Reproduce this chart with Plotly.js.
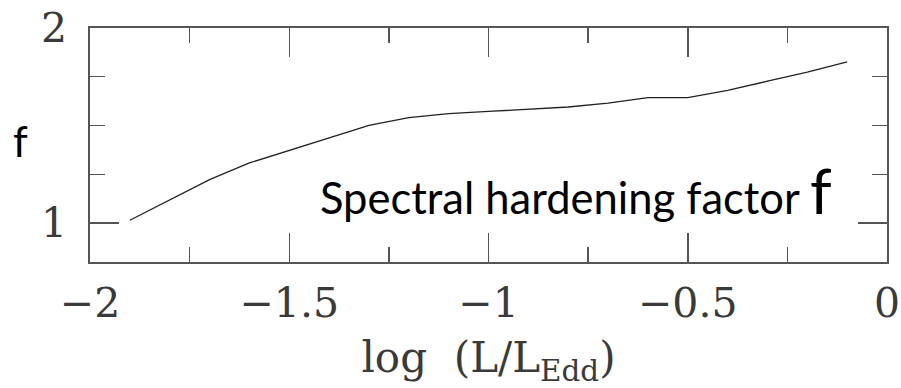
<!DOCTYPE html>
<html>
<head>
<meta charset="utf-8">
<script src="https://cdn.plot.ly/plotly-3.0.1.min.js"></script>
<style>html,body{margin:0;padding:0;background:#fff;}#chart{width:901px;height:388px;}</style>
</head>
<body>
<div id="chart"></div>
<script>
// log(L/L_Edd)
const logL = [-1.9, -1.8, -1.7, -1.6, -1.5, -1.4, -1.3, -1.2, -1.1, -1.0, -0.9, -0.8, -0.7, -0.6, -0.5, -0.4, -0.3, -0.2, -0.1];
// spectral hardening factor f
const fValues = [1.014, 1.118, 1.222, 1.308, 1.372, 1.436, 1.501, 1.540, 1.561, 1.572, 1.584, 1.595, 1.615, 1.643, 1.643, 1.680, 1.727, 1.774, 1.826];
const xTickVals = [-2, -1.5, -1, -0.5, 0];
const xTickText = ['\u22122', '\u22121.5', '\u22121', '\u22120.5', '0'];
const yTickVals = [1, 2];
const yTickText = ['1', '2'];

const serif = 'DejaVu Serif, serif';
const axisColor = '#555';

const trace = {
  x: logL, y: fValues, type: 'scatter', mode: 'lines',
  line: {color: '#222', width: 1.3}, hoverinfo: 'skip'
};

const layout = {
  width: 901, height: 388,
  margin: {l: 90, r: 14, t: 28, b: 126},
  paper_bgcolor: '#fff', plot_bgcolor: '#fff',
  showlegend: false,
  xaxis: {
    range: [-2, 0], showgrid: false, zeroline: false,
    showline: true, linecolor: axisColor, linewidth: 1.6, mirror: 'ticks',
    ticks: 'inside', ticklen: 29, tickwidth: 1.5, tickcolor: axisColor,
    tickvals: xTickVals, ticktext: xTickText,
    tickfont: {family: serif, size: 41, color: '#3a3a3a'},
    ticklabelstandoff: 4,
    minor: {dtick: 0.25, ticks: 'inside', ticklen: 15, tickwidth: 1.4, tickcolor: axisColor, showgrid: false},
    title: {text: 'log\u00a0\u00a0(L/L<sub>Edd</sub>)', font: {family: serif, size: 42, color: '#3a3a3a'}, standoff: 17}
  },
  yaxis: {
    range: [0.8, 2], showgrid: false, zeroline: false,
    showline: true, linecolor: axisColor, linewidth: 1.6, mirror: 'ticks',
    ticks: 'inside', ticklen: 29, tickwidth: 1.5, tickcolor: axisColor,
    tickvals: yTickVals, ticktext: yTickText,
    tickfont: {family: serif, size: 41, color: '#3a3a3a'},
    ticklabelstandoff: 13,
    minor: {dtick: 0.25, ticks: 'inside', ticklen: 15, tickwidth: 1.4, tickcolor: axisColor, showgrid: false}
  },
  annotations: [
    {
      xref: 'paper', yref: 'paper', x: (318 - 90) / 797, y: (262 - 229) / 234,
      xanchor: 'left', yanchor: 'bottom', showarrow: false,
      text: 'Spectral hardening factor <span style="font-size:62px">f</span>',
      font: {family: 'Lato, sans-serif', size: 43.5, color: '#000'}
    },
    {
      xref: 'paper', yref: 'paper', x: -70 / 797, y: (262 - 141) / 234,
      xanchor: 'center', yanchor: 'middle', showarrow: false,
      text: 'f', font: {family: 'Lato, sans-serif', size: 42, color: '#000'}
    }
  ]
};

Plotly.newPlot('chart', [trace], layout, {staticPlot: true, displayModeBar: false});
</script>
</body>
</html>
